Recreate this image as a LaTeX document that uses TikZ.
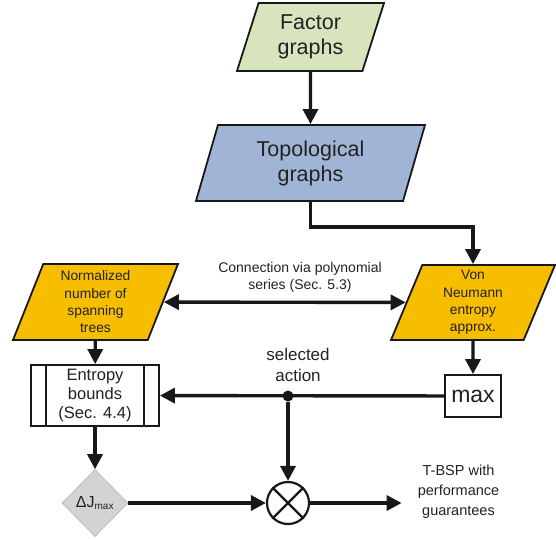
\documentclass[tikz,border=0pt]{standalone}
\usepackage{fontspec}
\setmainfont{Liberation Sans}
\usepackage{tikz}
\usetikzlibrary{arrows.meta, positioning, shapes.geometric}
\definecolor{Ink}{RGB}{24, 24, 24}
\definecolor{TextInk}{RGB}{34, 34, 34}
\definecolor{FactorGreen}{RGB}{215, 228, 189}
\definecolor{TopoBlue}{RGB}{160, 181, 213}
\definecolor{Amber}{RGB}{247, 190, 0}
\definecolor{DeltaGrey}{RGB}{211, 211, 211}

\begin{document}
\begin{tikzpicture}[
          x=1pt, y=-1pt,
          para/.style={trapezium, trapezium left angle=64, trapezium right angle=116,
                       trapezium stretches body, draw=Ink, line width=1.8pt,
                       inner sep=0pt, align=center, text=TextInk},
          box/.style={draw=Ink, fill=white, line width=1.8pt, inner sep=0pt,
                      align=center, text=TextInk},
          lbl/.style={inner sep=0pt, align=center, text=TextInk},
          arr/.style={-{Triangle[length=15pt, width=15pt]}, Ink, line width=3.4pt},
          darr/.style={{Triangle[length=15pt, width=15pt]}-{Triangle[length=15pt, width=15pt]},
                       Ink, line width=3.4pt}
        ]
        \useasboundingbox (0,0) rectangle (556,539);
        % top of the chain
        \node[para, fill=FactorGreen, minimum width=147pt, minimum height=68pt,
              font=\fontsize{21.5}{25}\selectfont] (factor) at (310.5,37) {Factor\\graphs};
        \node[para, fill=TopoBlue, minimum width=229pt, minimum height=76pt,
              font=\fontsize{21.5}{25}\selectfont] (topo) at (310.5,163) {Topological\\graphs};
        % the two entropy measures
        \node[para, fill=Amber, minimum width=165pt, minimum height=76pt,
              font=\fontsize{13.8}{17.3}\selectfont] (norm) at (95.5,302)
              {Normalized\\number of\\spanning\\trees};
        \node[para, fill=Amber, minimum width=164pt, minimum height=75pt,
              font=\fontsize{13.8}{17.3}\selectfont] (vn) at (473,302.5)
              {Von\\Neumann\\entropy\\approx.};
        \node[lbl, font=\fontsize{14}{17}\selectfont] (conn) at (300,277)
              {Connection via polynomial\\series (Sec. 5.3)};
        % bounds and selection
        \node[box, minimum width=128pt, minimum height=61pt,
              font=\fontsize{16.5}{19}\selectfont] (bounds) at (95,395.5)
              {Entropy\\bounds\\(Sec. 4.4)};
        \draw[Ink, line width=1.8pt] ([xshift=16pt]bounds.north west) -- ([xshift=16pt]bounds.south west);
        \draw[Ink, line width=1.8pt] ([xshift=-16pt]bounds.north east) -- ([xshift=-16pt]bounds.south east);
        \node[box, minimum width=56pt, minimum height=42pt,
              font=\fontsize{23}{26}\selectfont] (maxb) at (473,396) {max};
        \node[circle, fill=Ink, inner sep=0pt, minimum size=11pt] (sel) at (288,396) {};
        \node[lbl, font=\fontsize{17}{21}\selectfont] (sellbl) at (298,365) {selected\\action};
        % bottom row
        \node[diamond, fill=DeltaGrey, draw=DeltaGrey!85!black, line width=0.6pt,
              minimum width=66pt, minimum height=67pt, inner sep=0pt,
              text=TextInk, font=\fontsize{16}{19}\selectfont] (dj) at (95,503)
              {ΔJ\textsubscript{\fontsize{10}{12}\selectfont max}};
        \node[circle, draw=Ink, fill=white, line width=2.2pt, minimum size=42pt,
              inner sep=0pt] (mult) at (288,503) {};
        \draw[Ink, line width=2.2pt] (mult.north west) -- (mult.south east);
        \draw[Ink, line width=2.2pt] (mult.north east) -- (mult.south west);
        \node[lbl, font=\fontsize{14.5}{20}\selectfont] (out) at (458.5,492)
              {T-BSP with\\performance\\guarantees};
        % connectors
        \draw[arr] (factor) -- (topo);
        \draw[arr] (topo.south) -- ++(0,25) -| (vn.north);
        \draw[darr] (norm) -- (vn);
        \draw[arr] (norm) -- (bounds);
        \draw[arr] (vn) -- (maxb);
        \draw[arr] (maxb) -- (bounds);
        \draw[arr] (sel) -- (mult);
        \draw[arr] (bounds) -- (dj);
        \draw[arr] (dj) -- (mult);
        \draw[arr] (mult) -- ([xshift=-16pt]mult -| out.west);
      \end{tikzpicture}
\end{document}
